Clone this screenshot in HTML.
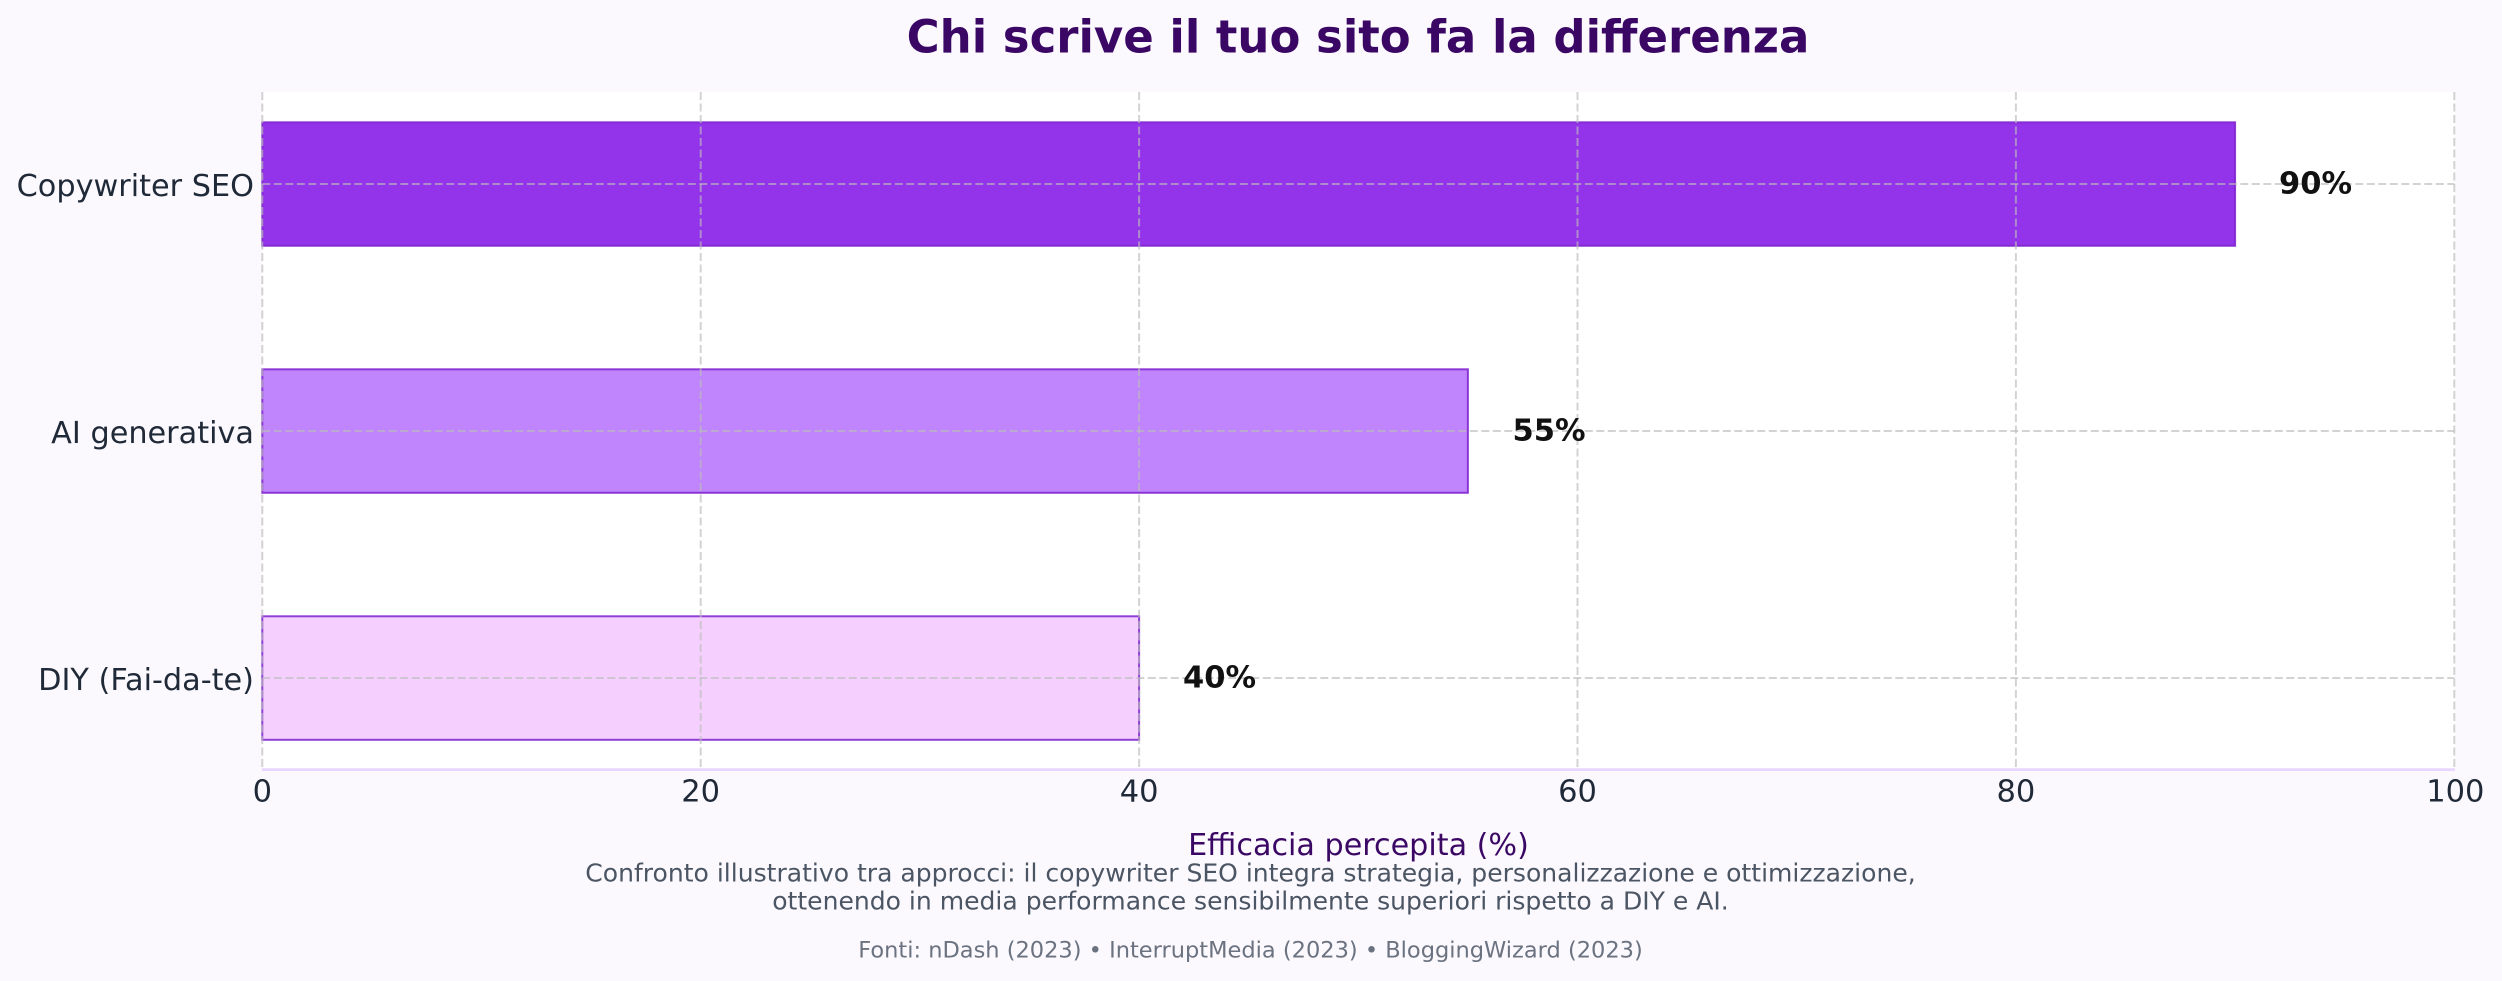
<!DOCTYPE html>
<html>
<head>
<meta charset="utf-8">
<style>
  html, body { margin:0; padding:0; background:#fbf9fe; }
  svg { display:block; }
  text { font-family: "DejaVu Sans", "Liberation Sans", sans-serif; }
</style>
</head>
<body>
<svg width="2502" height="981" viewBox="0 0 2502 981" xmlns="http://www.w3.org/2000/svg">
  <rect x="0" y="0" width="2502" height="981" fill="#fbf9fe"/>
  <!-- plot area -->
  <rect x="262.3" y="92" width="2192" height="677" fill="#ffffff"/>

  <!-- bars -->
  <rect x="262.3" y="122.3" width="1972.8" height="123.5" fill="#9333ea" stroke="#7e22ce" stroke-opacity="0.85" stroke-width="2"/>
  <rect x="262.3" y="369.3" width="1205.6" height="123.5" fill="#c084fc" stroke="#7e22ce" stroke-opacity="0.85" stroke-width="2"/>
  <rect x="262.3" y="616.3" width="876.8" height="123.5" fill="#f5d0fe" stroke="#7e22ce" stroke-opacity="0.85" stroke-width="2"/>

  <!-- grid -->
  <g stroke="#bbbbbb" stroke-opacity="0.65" stroke-width="2" stroke-dasharray="8 3.5" fill="none">
    <line x1="262.3" y1="92" x2="262.3" y2="769"/>
    <line x1="700.7" y1="92" x2="700.7" y2="769"/>
    <line x1="1139.1" y1="92" x2="1139.1" y2="769"/>
    <line x1="1577.5" y1="92" x2="1577.5" y2="769"/>
    <line x1="2015.9" y1="92" x2="2015.9" y2="769"/>
    <line x1="2454.3" y1="92" x2="2454.3" y2="769"/>
    <line x1="262.3" y1="184" x2="2454.3" y2="184"/>
    <line x1="262.3" y1="431" x2="2454.3" y2="431"/>
    <line x1="262.3" y1="678" x2="2454.3" y2="678"/>
  </g>

  <!-- bottom spine -->
  <line x1="262" y1="769.6" x2="2455" y2="769.6" stroke="#e9d5ff" stroke-width="2.8"/>

  <!-- x tick labels -->
  <g font-size="30.5" fill="#1f2937" text-anchor="middle">
    <text x="262.3" y="801.7">0</text>
    <text x="700.7" y="801.7">20</text>
    <text x="1139.1" y="801.7">40</text>
    <text x="1577.5" y="801.7">60</text>
    <text x="2015.9" y="801.7">80</text>
    <text x="2455.3" y="801.7">100</text>
  </g>

  <!-- y tick labels -->
  <g font-size="30.3" fill="#1f2937" text-anchor="end">
    <text x="254" y="196">Copywriter SEO</text>
    <text x="254" y="443">AI generativa</text>
    <text x="254" y="690">DIY (Fai-da-te)</text>
  </g>

  <!-- value labels -->
  <g font-size="30.5" font-weight="bold" fill="#111111">
    <text x="2279" y="193.5">90%</text>
    <text x="1512.5" y="440.5">55%</text>
    <text x="1183" y="687.5">40%</text>
  </g>

  <!-- title -->
  <text x="1358" y="52.3" font-size="45" font-weight="bold" fill="#3b0764" text-anchor="middle">Chi scrive il tuo sito fa la differenza</text>

  <!-- x label -->
  <text x="1358.5" y="855" font-size="30.2" fill="#3b0764" text-anchor="middle">Efficacia percepita (%)</text>

  <!-- caption -->
  <g font-size="25.05" fill="#4b5563" text-anchor="middle">
    <text x="1250.5" y="881.7">Confronto illustrativo tra approcci: il copywriter SEO integra strategia, personalizzazione e ottimizzazione,</text>
    <text x="1250.5" y="909.3">ottenendo in media performance sensibilmente superiori rispetto a DIY e AI.</text>
  </g>
  <text x="1250.5" y="957.3" font-size="22.5" fill="#6b7280" text-anchor="middle">Fonti: nDash (2023) • InterruptMedia (2023) • BloggingWizard (2023)</text>
</svg>
</body>
</html>
